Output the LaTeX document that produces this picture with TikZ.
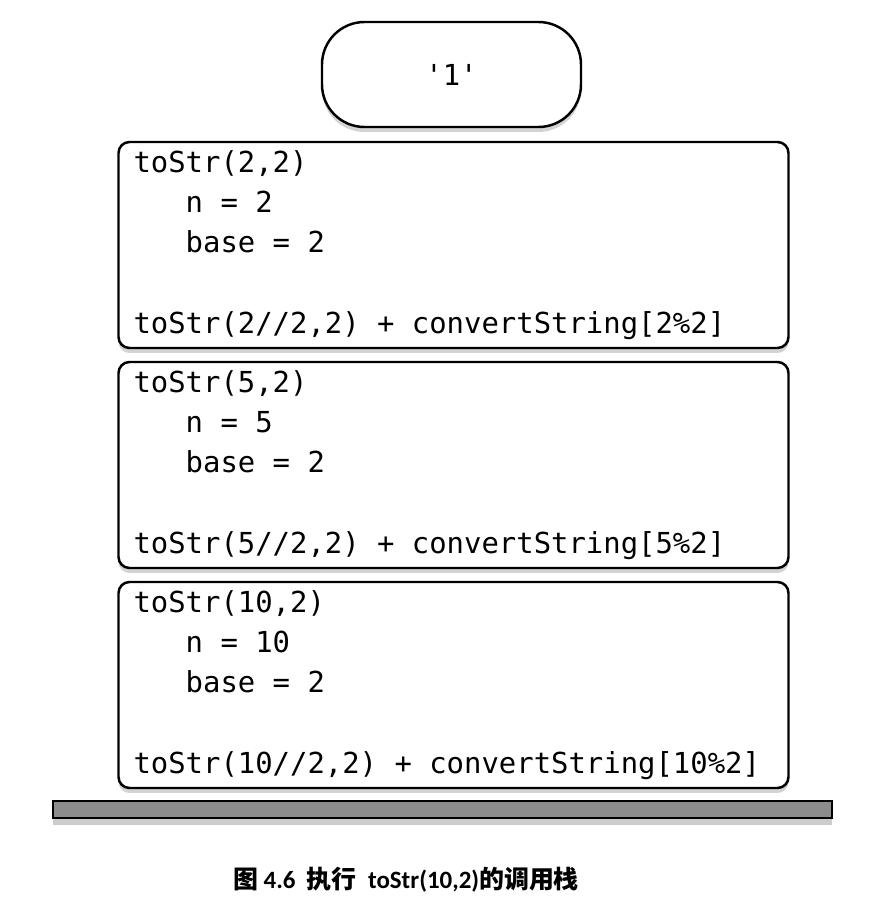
\documentclass[tikz,border=0pt]{standalone}
\usepackage{fontspec}
\setmainfont{Carlito}
\setmonofont{DejaVu Sans Mono}
\newfontfamily\cjk{Noto Sans CJK SC}
\usetikzlibrary{shadows}

\tikzset{
	callframe/.style={draw, line width=1.4pt, rounded corners=0.22cm, fill=white,
		minimum width=13.4cm, minimum height=4.12cm, text width=12.8cm, inner xsep=0.3cm,
		align=left, font=\ttfamily\fontsize{16.45pt}{23pt}\selectfont,
		execute at begin node={\spaceskip=0.602em\relax},
		drop shadow={shadow xshift=0pt, shadow yshift=-0.1cm, opacity=0.35}},
	retbox/.style={draw, line width=1.4pt, rounded corners=0.85cm, fill=white,
		minimum width=5.18cm, minimum height=2.1cm, font=\ttfamily\fontsize{16.45pt}{23pt}\selectfont,
		drop shadow={shadow xshift=0pt, shadow yshift=-0.1cm, opacity=0.35}},
}

\begin{document}
\begin{tikzpicture}
		\useasboundingbox (0,0) rectangle (17.72,18.2);
		
		\node[retbox] (ret) at (9.03,16.71) {'1'};
		
		\foreach \nv/\yv/\nm in {2/13.3/top, 5/8.9/mid, 10/4.5/bot}{
			\node[callframe] (\nm) at (9.07,\yv) {toStr(\nv,2)\\\phantom{toS}n = \nv\\\phantom{toS}base = 2\\~\\toStr(\nv//2,2) + convertString[\nv\%2]};
		}
		
		\node[draw, line width=1.4pt, fill=black!45, minimum width=15.58cm, minimum height=0.34cm, inner sep=0pt,
			drop shadow={shadow xshift=0pt, shadow yshift=-0.15cm, opacity=0.4}] (base) at (8.85,2.01) {};
		
		\node (caption) at (8.12,0.6) {\fontsize{14.2pt}{17pt}\selectfont\bfseries{\cjk 图} 4.6\ \ {\cjk 执行}\ \ toStr(10,2){\cjk 的调用栈}};
		\end{tikzpicture}
\end{document}
